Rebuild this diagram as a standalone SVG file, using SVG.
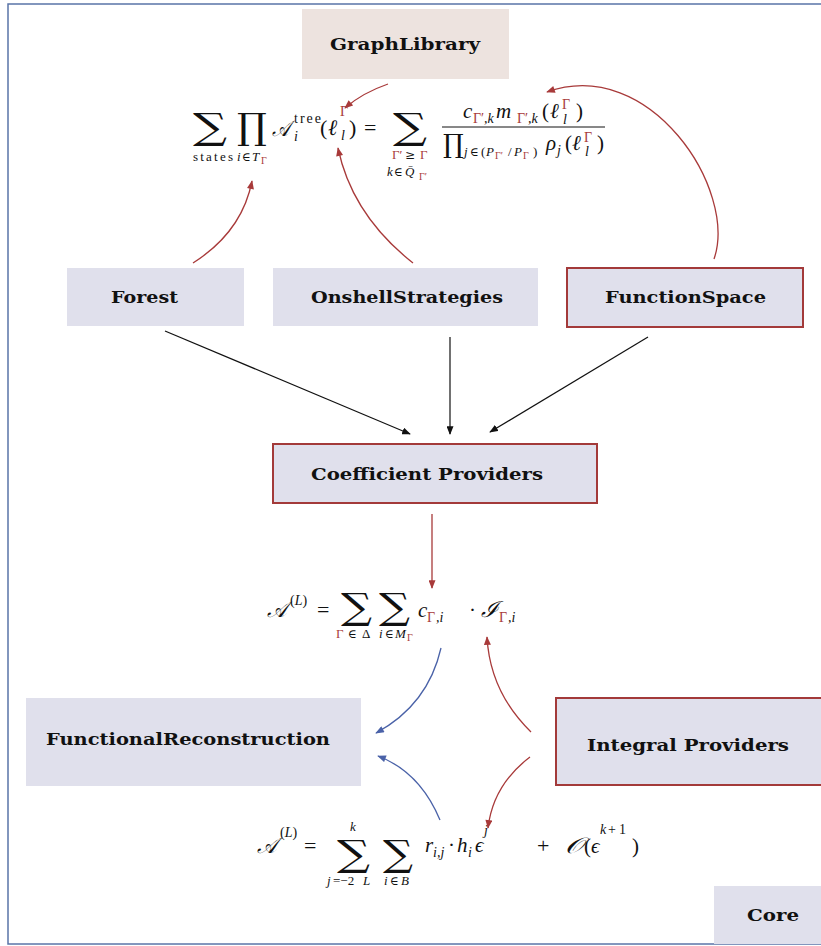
<svg xmlns="http://www.w3.org/2000/svg" width="821" height="946" viewBox="0 0 821 946">
<defs>
<style>
.lbl{font-family:"DejaVu Serif","Liberation Serif",serif;font-weight:bold;font-size:17px;fill:#111}
.m{font-family:"Liberation Serif","DejaVu Serif",serif;fill:#111}
.mi{font-family:"Liberation Serif","DejaVu Serif",serif;font-style:italic;fill:#111}
.op{font-family:"DejaVu Serif","Liberation Serif",serif;fill:#111}
.r{fill:#a83a3a}
.box{fill:#e0e0ec}
.boxr{fill:#e0e0ec;stroke:#a33a3a;stroke-width:2}
.ck{fill:none;stroke:#111;stroke-width:1.2}
.cr{fill:none;stroke:#a83a3a;stroke-width:1.3}
.cb{fill:none;stroke:#4a62a8;stroke-width:1.3}
</style>
<marker id="ak" viewBox="0 0 10 8" refX="9" refY="4" markerWidth="9" markerHeight="7" markerUnits="userSpaceOnUse" orient="auto"><path d="M0,0 L10,4 L0,8 z" fill="#111"/></marker>
<marker id="ar" viewBox="0 0 10 8" refX="9" refY="4" markerWidth="10" markerHeight="7" markerUnits="userSpaceOnUse" orient="auto"><path d="M0,0 L10,4 L0,8 z" fill="#a83a3a"/></marker>
<marker id="ab" viewBox="0 0 10 8" refX="9" refY="4" markerWidth="10" markerHeight="7" markerUnits="userSpaceOnUse" orient="auto"><path d="M0,0 L10,4 L0,8 z" fill="#4a62a8"/></marker>
</defs>
<rect x="0" y="0" width="821" height="946" fill="#fff"/>
<rect x="8" y="4" width="830" height="940" fill="none" stroke="#5a74a8" stroke-width="1.5"/>

<g id="GraphLibrary"><rect x="302" y="9" width="207" height="70" fill="#ede3df"/><text class="lbl" x="405" y="50" text-anchor="middle" textLength="150" lengthAdjust="spacingAndGlyphs">GraphLibrary</text></g>
<g id="Forest"><rect class="box" x="67" y="268" width="177" height="58"/><text class="lbl" x="111" y="303" textLength="67" lengthAdjust="spacingAndGlyphs">Forest</text></g>
<g id="OnshellStrategies"><rect class="box" x="273" y="268" width="265" height="58"/><text class="lbl" x="311" y="303" textLength="192" lengthAdjust="spacingAndGlyphs">OnshellStrategies</text></g>
<g id="FunctionSpace"><rect class="boxr" x="567" y="268" width="236" height="59"/><text class="lbl" x="605" y="303" textLength="161" lengthAdjust="spacingAndGlyphs">FunctionSpace</text></g>
<g id="CoefficientProviders"><rect class="boxr" x="273" y="444" width="324" height="59"/><text class="lbl" x="311" y="480" textLength="232" lengthAdjust="spacingAndGlyphs">Coefficient Providers</text></g>
<g id="FunctionalReconstruction"><rect class="box" x="26" y="698" width="335" height="88"/><text class="lbl" x="46" y="745" textLength="284" lengthAdjust="spacingAndGlyphs">FunctionalReconstruction</text></g>
<g id="IntegralProviders"><rect class="boxr" x="556" y="698" width="268" height="87"/><text class="lbl" x="587" y="751" textLength="202" lengthAdjust="spacingAndGlyphs">Integral Providers</text></g>
<g id="Core"><rect class="box" x="714" y="886" width="110" height="58"/><text class="lbl" x="747" y="921" textLength="52" lengthAdjust="spacingAndGlyphs">Core</text></g>

<g id="formula-tree">
<text class="op" x="193" y="139" font-size="36" textLength="34" lengthAdjust="spacingAndGlyphs">∑</text>
<text class="m" x="193" y="161" font-size="13" textLength="40">states</text>
<text class="op" x="237" y="139" font-size="36" textLength="30" lengthAdjust="spacingAndGlyphs">∏</text>
<text class="mi" x="237" y="161" font-size="13">i</text>
<text class="op" x="242" y="161" font-size="12">∈</text>
<text class="mi" x="252" y="161" font-size="13">T</text>
<text class="m r" x="261" y="164" font-size="10">Γ</text>
<text class="mi" x="272" y="136" font-size="22" textLength="18" lengthAdjust="spacingAndGlyphs">𝒜</text>
<text class="m" x="294" y="123" font-size="14" textLength="27">tree</text>
<text class="mi" x="294" y="141" font-size="14">i</text>
<text class="m" x="320" y="135" font-size="22">(</text>
<text class="mi" x="328" y="135" font-size="22">ℓ</text>
<text class="m r" x="340" y="116" font-size="14">Γ</text>
<text class="mi" x="341" y="140" font-size="14">l</text>
<text class="m" x="349" y="135" font-size="22">)</text>
<text class="m" x="364" y="135" font-size="22">=</text>
<text class="op" x="393" y="139" font-size="36" textLength="34" lengthAdjust="spacingAndGlyphs">∑</text>
<text class="m r" x="392" y="159" font-size="13">Γ′</text>
<text class="op" x="405" y="159" font-size="12">≥</text>
<text class="m r" x="420" y="159" font-size="13">Γ</text>
<text class="mi" x="387" y="176" font-size="13">k</text>
<text class="op" x="394" y="176" font-size="12">∈</text>
<text class="mi" x="405" y="176" font-size="13">Q̄</text>
<text class="m r" x="419" y="180" font-size="10">Γ′</text>
<text class="mi" x="463" y="118" font-size="21">c</text>
<text class="m r" x="473" y="123" font-size="14">Γ′</text>
<text class="mi" x="484" y="123" font-size="14">,k</text>
<text class="mi" x="496" y="118" font-size="21">m</text>
<text class="m r" x="517" y="123" font-size="14">Γ′</text>
<text class="mi" x="528" y="123" font-size="14">,k</text>
<text class="m" x="542" y="118" font-size="21">(</text>
<text class="mi" x="550" y="118" font-size="21">ℓ</text>
<text class="m r" x="562" y="109" font-size="14">Γ</text>
<text class="mi" x="563" y="124" font-size="14">l</text>
<text class="m" x="576" y="118" font-size="21">)</text>
<line x1="442" y1="127" x2="605" y2="127" stroke="#111" stroke-width="1"/>
<text class="op" x="443" y="153" font-size="26">∏</text>
<text class="mi" x="464" y="156" font-size="13">j</text>
<text class="op" x="470" y="156" font-size="12">∈</text>
<text class="m" x="481" y="156" font-size="13">(</text>
<text class="mi" x="486" y="156" font-size="13">P</text>
<text class="m r" x="495" y="159" font-size="10">Γ′</text>
<text class="m" x="508" y="156" font-size="13">/</text>
<text class="mi" x="514" y="156" font-size="13">P</text>
<text class="m r" x="523" y="159" font-size="10">Γ</text>
<text class="m" x="533" y="156" font-size="13">)</text>
<text class="mi" x="546" y="150" font-size="21">ρ</text>
<text class="mi" x="557" y="155" font-size="14">j</text>
<text class="m" x="565" y="150" font-size="21">(</text>
<text class="mi" x="572" y="150" font-size="21">ℓ</text>
<text class="m r" x="584" y="142" font-size="14">Γ</text>
<text class="mi" x="585" y="156" font-size="14">l</text>
<text class="m" x="597" y="150" font-size="21">)</text>
</g>

<g id="formula-amplitude">
<text class="mi" x="267" y="617" font-size="22" textLength="20" lengthAdjust="spacingAndGlyphs">𝒜</text>
<text class="m" x="290" y="605" font-size="14">(<tspan font-style="italic">L</tspan>)</text>
<text class="m" x="317" y="617" font-size="22">=</text>
<text class="op" x="341" y="619" font-size="36" textLength="31" lengthAdjust="spacingAndGlyphs">∑</text>
<text class="op" x="379" y="619" font-size="36" textLength="31" lengthAdjust="spacingAndGlyphs">∑</text>
<text class="m r" x="336" y="638" font-size="13">Γ</text>
<text class="op" x="348" y="638" font-size="12">∈</text>
<text class="m" x="362" y="638" font-size="13">Δ</text>
<text class="mi" x="379" y="638" font-size="13">i</text>
<text class="op" x="385" y="638" font-size="12">∈</text>
<text class="mi" x="395" y="638" font-size="13">M</text>
<text class="m r" x="407" y="641" font-size="10">Γ</text>
<text class="mi" x="418" y="617" font-size="21">c</text>
<text class="m r" x="427" y="622" font-size="14">Γ</text>
<text class="mi" x="436" y="622" font-size="14">,i</text>
<text class="m" x="469" y="617" font-size="21">·</text>
<text class="mi" x="481" y="617" font-size="22" textLength="17" lengthAdjust="spacingAndGlyphs">ℐ</text>
<text class="m r" x="499" y="622" font-size="14">Γ</text>
<text class="mi" x="508" y="622" font-size="14">,i</text>
</g>

<g id="formula-expansion">
<text class="mi" x="257" y="853" font-size="22" textLength="20" lengthAdjust="spacingAndGlyphs">𝒜</text>
<text class="m" x="280" y="837" font-size="14">(<tspan font-style="italic">L</tspan>)</text>
<text class="m" x="304" y="853" font-size="22">=</text>
<text class="mi" x="350" y="831" font-size="13">k</text>
<text class="op" x="337" y="866" font-size="36" textLength="33" lengthAdjust="spacingAndGlyphs">∑</text>
<text class="mi" x="327" y="885" font-size="13">j</text>
<text class="m" x="333" y="885" font-size="13">=−2</text>
<text class="mi" x="363" y="885" font-size="13">L</text>
<text class="op" x="383" y="866" font-size="36" textLength="30" lengthAdjust="spacingAndGlyphs">∑</text>
<text class="mi" x="384" y="885" font-size="13">i</text>
<text class="op" x="390" y="885" font-size="12">∈</text>
<text class="mi" x="401" y="885" font-size="13">B</text>
<text class="mi" x="425" y="852" font-size="21">r</text>
<text class="mi" x="433" y="857" font-size="14">i,j</text>
<text class="m" x="448" y="852" font-size="21">·</text>
<text class="mi" x="457" y="852" font-size="21">h</text>
<text class="mi" x="468" y="857" font-size="14">i</text>
<text class="mi" x="475" y="852" font-size="21">ϵ</text>
<text class="mi" x="484" y="835" font-size="14">j</text>
<text class="m" x="537" y="853" font-size="22">+</text>
<text class="mi" x="565" y="853" font-size="22" textLength="18" lengthAdjust="spacingAndGlyphs">𝒪</text>
<text class="m" x="584" y="853" font-size="21">(</text>
<text class="mi" x="591" y="853" font-size="21">ϵ</text>
<text class="mi" x="600" y="834" font-size="14">k</text>
<text class="m" x="608" y="834" font-size="14">+</text>
<text class="m" x="619" y="834" font-size="14">1</text>
<text class="m" x="632" y="853" font-size="21">)</text>
</g>

<g id="connectors">
<line class="ck" x1="165" y1="331" x2="410" y2="434" marker-end="url(#ak)"/>
<line class="ck" x1="450" y1="337" x2="450" y2="434" marker-end="url(#ak)"/>
<line class="ck" x1="648" y1="337" x2="490" y2="432" marker-end="url(#ak)"/>
<line class="cr" x1="432" y1="514" x2="432" y2="588" marker-end="url(#ar)"/>
<path class="cr" d="M388,84 Q362,93 345,108" marker-end="url(#ar)"/>
<path class="cr" d="M193,263 Q242,232 252,181" marker-end="url(#ar)"/>
<path class="cr" d="M413,263 Q352,215 338,148" marker-end="url(#ar)"/>
<path class="cr" d="M714,259 C738,190 650,55 547,92" marker-end="url(#ar)"/>
<path class="cr" d="M531,732 Q490,692 487,637" marker-end="url(#ar)"/>
<path class="cr" d="M530,757 Q493,785 488,828" marker-end="url(#ar)"/>
<path class="cb" d="M441,648 Q428,705 376,733" marker-end="url(#ab)"/>
<path class="cb" d="M440,820 Q420,772 378,756" marker-end="url(#ab)"/>
</g>
</svg>
